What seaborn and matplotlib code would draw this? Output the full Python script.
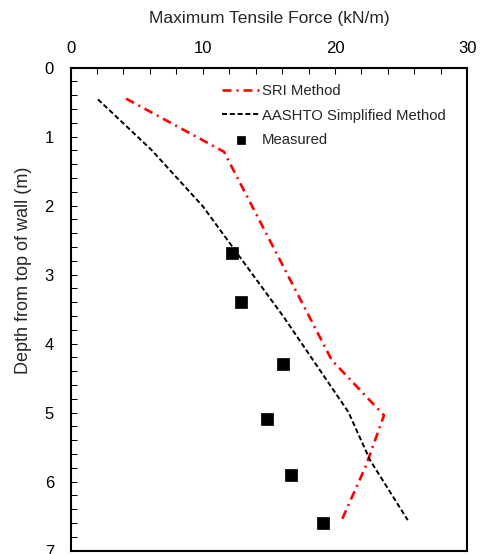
import matplotlib
matplotlib.use("Agg")
import matplotlib.pyplot as plt
from matplotlib.ticker import MultipleLocator
import seaborn as sns
import pandas as pd

# Data
sri_force = [4.2, 11.6, 19.75, 23.7, 22.3, 20.5]
sri_depth = [0.45, 1.22, 4.24, 5.04, 5.79, 6.56]

aashto_force = [2.07, 6.1, 10.0, 12.4, 16.1, 21.0, 22.65, 25.5]
aashto_depth = [0.46, 1.19, 2.01, 2.64, 3.61, 4.99, 5.69, 6.56]

meas_force = [12.2, 12.9, 16.1, 14.85, 16.7, 19.1]
meas_depth = [2.69, 3.40, 4.30, 5.10, 5.91, 6.60]

sns.set_style("ticks")
plt.rcParams['font.family'] = ['Liberation Sans', 'DejaVu Sans']

fig = plt.figure(figsize=(4.8, 5.54), dpi=100)
ax = fig.add_axes([0.147, 0.0063, 0.9735 - 0.147, 0.878 - 0.0063])

sri = pd.DataFrame({"force": sri_force, "depth": sri_depth})
aas = pd.DataFrame({"force": aashto_force, "depth": aashto_depth})
mea = pd.DataFrame({"force": meas_force, "depth": meas_depth})

sns.lineplot(data=sri, x="force", y="depth", sort=False, estimator=None, ax=ax,
             color="#ff0000", lw=1.9, linestyle=(0, (3.4, 1.9, 0.75, 1.9)),
             label="SRI Method")
sns.lineplot(data=aas, x="force", y="depth", sort=False, estimator=None, ax=ax,
             color="black", lw=1.4, linestyle=(0, (2.6, 1.4)),
             label="AASHTO Simplified Method")
sns.scatterplot(data=mea, x="force", y="depth", ax=ax, marker="s", s=66,
                color="black", edgecolor="black", linewidth=0.5,
                label="Measured")

ax.set_xlim(0, 30)
ax.set_ylim(7, 0)
ax.xaxis.set_major_locator(MultipleLocator(10))
ax.xaxis.set_minor_locator(MultipleLocator(2))
ax.yaxis.set_major_locator(MultipleLocator(1))
ax.yaxis.set_minor_locator(MultipleLocator(0.2))
ax.xaxis.tick_top()
ax.xaxis.set_label_position("top")
ax.tick_params(axis="both", which="both", direction="in", length=4, width=0.75,
               labelsize=12, colors="black")
ax.tick_params(axis="x", which="both", top=True, bottom=False, pad=8)
ax.tick_params(axis="y", which="both", left=True, right=False, pad=12)
for sp in ax.spines.values():
    sp.set_visible(True)
    sp.set_linewidth(1.5)
    sp.set_color("black")

ax.set_xlabel("Maximum Tensile Force (kN/m)", fontsize=12.5, labelpad=13)
ax.set_ylabel("Depth from top of wall (m)", fontsize=13)
ax.yaxis.set_label_coords(-0.097, 0.581)

ax.legend(loc="upper left", bbox_to_anchor=(222 / 480, 1 - 84 / 554),
          bbox_transform=fig.transFigure, frameon=False,
          fontsize=10.7, handlelength=2.55, handletextpad=0.15, labelspacing=0.72,
          borderaxespad=0, borderpad=0, markerscale=0.75)

fig.savefig("out.png", dpi=100)
